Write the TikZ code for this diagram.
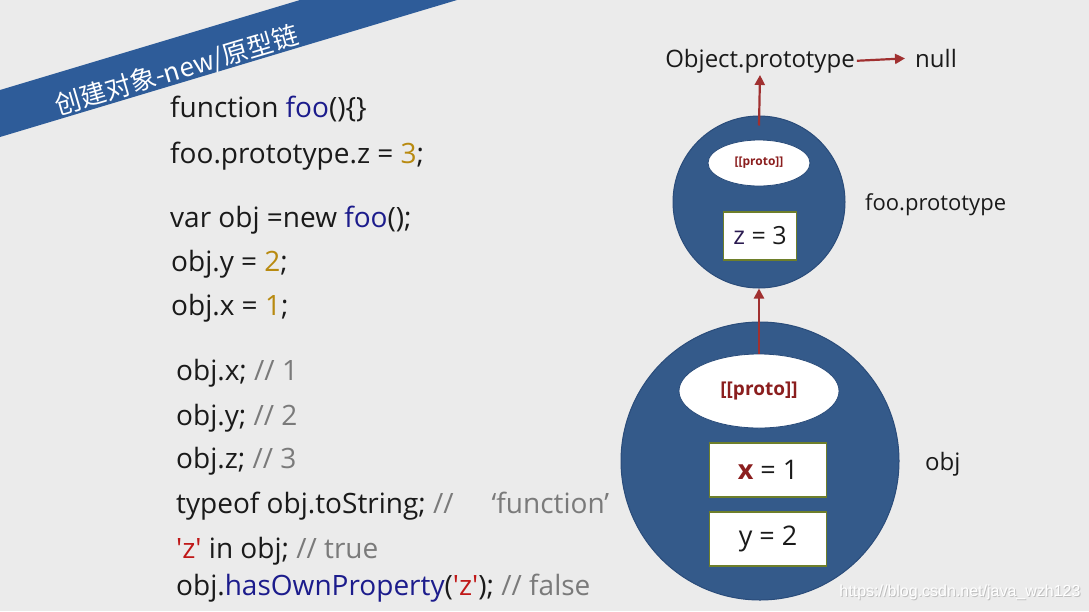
\documentclass[tikz,border=0pt]{standalone}
\usepackage{fontspec}
\newfontfamily\codefont{Open Sans}
\newfontfamily\cjkfont{Noto Sans CJK SC}
\newfontfamily\wmfont{Liberation Sans}
\usetikzlibrary{shapes.geometric,arrows.meta}
\definecolor{bg}{HTML}{EBEBEB}
\definecolor{banner}{HTML}{2E5C99}
\definecolor{circ}{HTML}{345A8A}
\definecolor{circedge}{HTML}{2A4C7A}
\definecolor{arrred}{HTML}{A03030}
\definecolor{kw}{HTML}{1C1C8C}
\definecolor{num}{HTML}{B88A10}
\definecolor{cmt}{HTML}{7A7A7A}
\definecolor{str}{HTML}{C01818}
\definecolor{protored}{HTML}{8B1E1E}
\definecolor{boxedge}{HTML}{6E7F2A}
\definecolor{txt}{HTML}{1A1A1A}
\definecolor{zcol}{HTML}{2A1A50}
\begin{document}
\begin{tikzpicture}[x=1pt,y=-1pt,
  code/.style={anchor=base west, inner sep=0pt, text=txt, font=\codefont\fontsize{28}{30}\selectfont},
  lbl/.style={inner sep=2pt, text=txt, font=\codefont\fontsize{24}{26}\selectfont},
  bigcirc/.style={circle, fill=circ, draw=circedge, line width=1pt, inner sep=0pt},
  protoell/.style={ellipse, fill=white, draw=circedge, line width=0.8pt, inner sep=0pt, text=protored},
  valbox/.style={rectangle, fill=white, draw=boxedge, line width=1.6pt, inner sep=0pt, text=txt, font=\codefont\fontsize{27}{29}\selectfont},
  arr/.style={draw=arrred, line width=2.2pt, -{Triangle[length=10pt,width=10pt]}}
]
\fill[bg] (0,0) rectangle (1089,611);
\useasboundingbox (0,0) rectangle (1089,611);
% banner
\fill[banner] (0,90) -- (300,0) -- (457,0) -- (0,137) -- cycle;
\node[rotate=16.5, text=white, inner sep=0pt, font=\cjkfont\fontsize{26}{26}\selectfont] (title) at (177,71) {创建对象-new/原型链};
% code
\node[code] (l1) at (170,117) {function \textcolor{kw}{foo}()\{\}};
\node[code] (l2) at (170,163) {foo.prototype.z = \textcolor{num}{3};};
\node[code] (l3) at (170,227) {var obj =new \textcolor{kw}{foo}();};
\node[code] (l4) at (171,271) {obj.y = \textcolor{num}{2};};
\node[code] (l5) at (171,315) {obj.x = \textcolor{num}{1};};
\node[code] (l6) at (176,380) {obj.x; \textcolor{cmt}{// 1}};
\node[code] (l7) at (176,425) {obj.y; \textcolor{cmt}{// 2}};
\node[code] (l8) at (176,468) {obj.z; \textcolor{cmt}{// 3}};
\node[code] (l9) at (176,513) {typeof obj.toString; \textcolor{cmt}{//\hspace{38pt}‘function’}};
\node[code] (l10) at (176,558) {\textcolor{str}{'z'} in obj; \textcolor{cmt}{// true}};
\node[code] (l11) at (176,595) {obj.\textcolor{kw}{hasOwnProperty}(\textcolor{str}{'z'}); \textcolor{cmt}{// false}};
% diagram
\node[bigcirc, minimum size=278pt] (objc) at (760,461) {};
\node[bigcirc, minimum size=172pt] (fooc) at (759,202) {};
\node[protoell, minimum width=160pt, minimum height=74pt, font=\codefont\bfseries\fontsize{19}{21}\selectfont] (objp) at (759,391) {[[proto]]};
\node[protoell, minimum width=102pt, minimum height=46pt, font=\codefont\bfseries\fontsize{12}{14}\selectfont] (foop) at (759,163) {[[proto]]};
\node[valbox, minimum width=73pt, minimum height=48pt, font=\codefont\fontsize{25}{27}\selectfont] (zbox) at (760,236) {\textcolor{zcol}{z} = 3};
\node[valbox, minimum width=117pt, minimum height=54pt] (xbox) at (768,470) {\textcolor{protored}{\bfseries x} = 1};
\node[valbox, minimum width=117pt, minimum height=54pt] (ybox) at (768,539) {y = 2};
\node[lbl, anchor=base] (objproto) at (760,67) {Object.prototype};
\node[lbl, anchor=base west] (null) at (913,67) {null};
\node[lbl, anchor=base west, font=\codefont\fontsize{22}{24}\selectfont] (foolbl) at (863,210) {foo.prototype};
\node[lbl, anchor=base west] (objlbl) at (923,470) {obj};
\draw[arr] (objp.north) -- (fooc.south);
\draw[arr] ([yshift=-10pt]fooc.north) -- (objproto.south);
\draw[arr, shorten >=8pt] (objproto.east) -- (null.west);
% watermark
\node[text=black!25, font=\wmfont\fontsize{16}{18}\selectfont, inner sep=0pt] (wm0) at (961,593) {https://blog.csdn.net/java\_wzh123};
\node[text=white, font=\wmfont\fontsize{16}{18}\selectfont, inner sep=0pt] (wm) at (960,592) {https://blog.csdn.net/java\_wzh123};
\end{tikzpicture}
\end{document}
